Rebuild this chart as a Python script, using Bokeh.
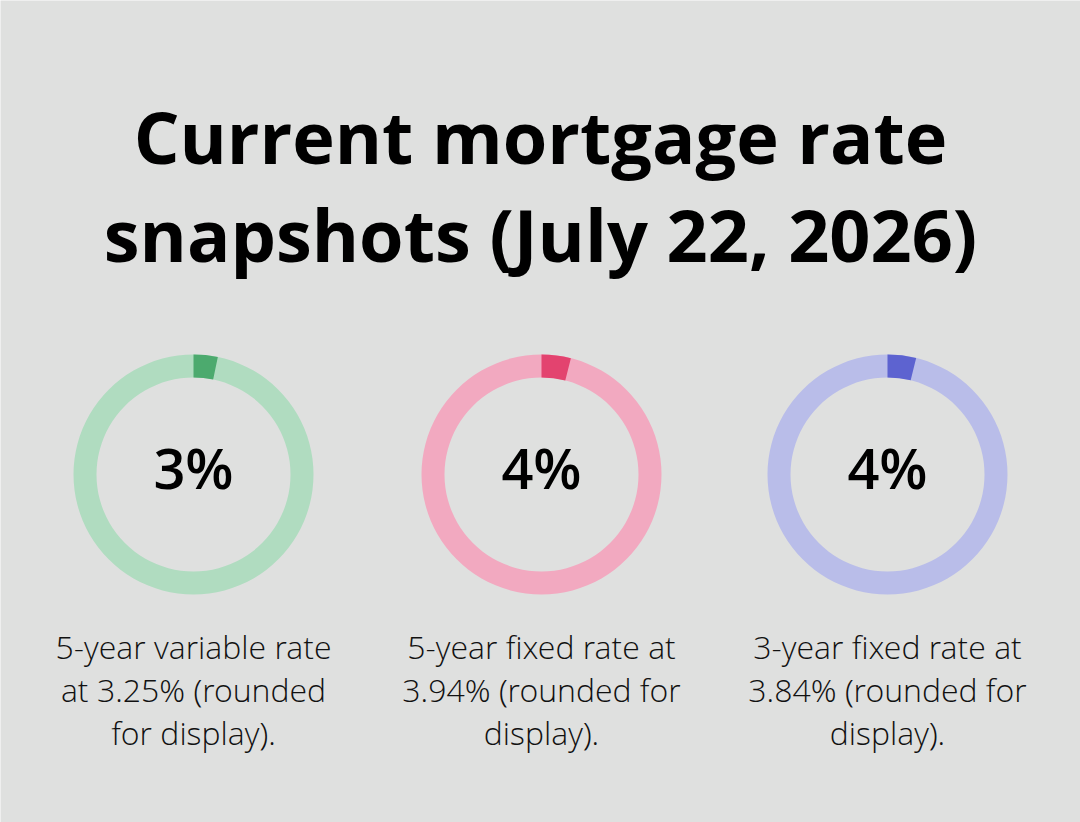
from bokeh.plotting import figure
from bokeh.models import ColumnDataSource, Range1d
from bokeh.core.properties import value
from bokeh.embed import file_html
from bokeh.resources import INLINE
import numpy as np

# Rate snapshots
labels = ["3%", "4%", "4%"]
rates = [3.25, 3.94, 3.84]
captions = [
    "5-year variable rate\nat 3.25% (rounded\nfor display).",
    "5-year fixed rate at\n3.94% (rounded for\ndisplay).",
    "3-year fixed rate at\n3.84% (rounded for\ndisplay).",
]
title_lines = ["Current mortgage rate", "snapshots (July 22, 2026)"]

track_colors = ["#b0dcc0", "#f2a9c0", "#b9bde9"]
arc_colors = ["#4caa6e", "#e3436f", "#5d63d0"]

W, H = 1080, 822
BG = "#dfe0df"

p = figure(width=W, height=H, x_range=Range1d(0, W), y_range=Range1d(0, H),
           output_backend="svg", toolbar_location=None, min_border=0,
           background_fill_color=BG, border_fill_color=BG, outline_line_color=None)
p.axis.visible = False
p.grid.visible = False

cx = [193, 541, 887]
cy = [H - 474] * 3
outer_r = 120
inner_r = 97

start = np.pi / 2
ends = [start - r / 100 * 2 * np.pi for r in rates]

track = ColumnDataSource(dict(x=cx, y=cy, color=track_colors))
p.annular_wedge(x="x", y="y", inner_radius=inner_r, outer_radius=outer_r,
                start_angle=0, end_angle=2 * np.pi - 1e-6, direction="anticlock",
                fill_color="color", line_color=None, source=track)

arcs = ColumnDataSource(dict(x=cx, y=cy, end=ends, color=arc_colors))
p.annular_wedge(x="x", y="y", inner_radius=inner_r, outer_radius=outer_r,
                start_angle=start, end_angle="end", direction="clock",
                fill_color="color", line_color=None, source=arcs)

centers = ColumnDataSource(dict(x=cx, y=[H - 466] * 3, t=labels))
p.text(x="x", y="y", text="t", source=centers, text_align="center",
       text_baseline="middle", text_font=value("Open Sans SemiBold"),
       text_font_size="56px", text_font_style="normal", text_color="#000000")

caps = ColumnDataSource(dict(x=cx, y=[H - 624] * 3, t=captions))
p.text(x="x", y="y", text="t", source=caps, text_align="center",
       text_baseline="top", text_font=value("Open Sans Light"),
       text_font_size="32px", text_line_height=1.01, text_color="#111111")

tsrc = ColumnDataSource(dict(x=[W / 2, W / 2], y=[H - 135, H - 233], t=title_lines))
p.text(x="x", y="y", text="t", source=tsrc, text_align="center",
       text_baseline="middle", text_font=value("Open Sans"),
       text_font_size="72px", text_font_style="bold", text_color="#000000")

open("out.html", "w").write(file_html(p, INLINE))
